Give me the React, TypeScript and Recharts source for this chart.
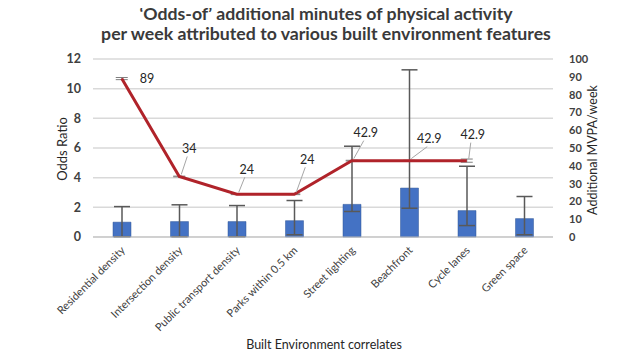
import {
  ComposedChart,
  Bar,
  Line,
  XAxis,
  YAxis,
  CartesianGrid,
  ErrorBar,
  LabelList,
} from "recharts";

const categories = [
  "Residential density",
  "Intersection density",
  "Public transport density",
  "Parks within 0.5 km",
  "Street lighting",
  "Beachfront",
  "Cycle lanes",
  "Green space",
];
const oddsRatio = [1.0, 1.04, 1.04, 1.1, 2.2, 3.3, 1.78, 1.24];
const ciLower = [0.02, 0.02, 0.02, 0.15, 1.72, 1.94, 0.77, 0.15];
const ciUpper = [2.05, 2.17, 2.12, 2.46, 6.12, 11.27, 4.77, 2.73];
const mvpa = [89, 34, 24, 24, 42.9, 42.9, 42.9, null];
const mvpaErr = [0.6, 0.2, 0.2, 0.2, 0.2, 0.2, 0.9, 0];
const leftTicks = [0, 2, 4, 6, 8, 10, 12];
const rightTicks = [0, 10, 20, 30, 40, 50, 60, 70, 80, 90, 100];

// label offsets (dx, dy) from each line point
const labelOffsets = [
  [18, 0],
  [10, -28],
  [10, -25],
  [13, -35],
  [14, -28],
  [20, -22],
  [6, -26],
];

const data = categories.map((name, i) => ({
  name,
  or: oddsRatio[i],
  orErr: [oddsRatio[i] - ciLower[i], ciUpper[i] - oddsRatio[i]],
  mvpa: mvpa[i],
  mvpaErr: mvpaErr[i],
}));

const FONT = "Lato, 'Open Sans', sans-serif";
const LINE_RED = "#B0232A";

function PointLabel(props: any) {
  const { x, y, value, index } = props;
  if (value == null) return null;
  const [dx, dy] = labelOffsets[index] || [0, -20];
  const leader = index !== 0;
  return (
    <g>
      {leader && (
        <line
          x1={x + 2}
          y1={y - 2}
          x2={x + dx - 2}
          y2={y + dy + 8}
          stroke="#a6a6a6"
          strokeWidth={1}
        />
      )}
      <text
        x={x + dx}
        y={y + dy}
        textAnchor={leader ? "middle" : "start"}
        dominantBaseline="central"
        fontFamily={FONT}
        fontSize={12.5}
        fill="#262626"
      >
        {value}
      </text>
    </g>
  );
}

function XTick(props: any) {
  const { x, y, payload } = props;
  return (
    <text
      x={x + 4}
      y={y + 6}
      textAnchor="end"
      fontFamily={FONT}
      fontSize={11}
      fill="#404040"
      transform={`rotate(-45 ${x + 4} ${y + 6})`}
    >
      {payload.value}
    </text>
  );
}

export default function App() {
  return (
    <div
      style={{
        position: "relative",
        width: 640,
        height: 364,
        margin: -8,
        background: "#fff",
        fontFamily: FONT,
      }}
    >
      <div
        style={{
          position: "absolute",
          top: 4,
          left: 6,
          width: 640,
          textAlign: "center",
          fontSize: 17.7,
          fontWeight: 700,
          lineHeight: "20px",
          color: "#3a3a3a",
          zIndex: 2,
        }}
      >
        ‘Odds-of’ additional minutes of physical activity
        <br />
        per week attributed to various built environment features
      </div>
      <ComposedChart
        width={640}
        height={364}
        data={data}
        margin={{ top: 59, right: 37, bottom: 37, left: 38 }}
        style={{ position: "absolute", top: 0, left: 0 }}
      >
        <CartesianGrid
          yAxisId="left"
          vertical={false}
          stroke="#d9d9d9"
          strokeWidth={1.5}
        />
        <XAxis
          dataKey="name"
          interval={0}
          height={90}
          tickLine={false}
          axisLine={{ stroke: "#bfbfbf" }}
          tick={<XTick />}
        />
        <YAxis
          yAxisId="left"
          domain={[0, 12]}
          ticks={leftTicks}
          width={55}
          tickLine={false}
          axisLine={false}
          tick={{ fontFamily: FONT, fontSize: 12.5, fontWeight: 700, fill: "#404040" }}
          tickMargin={6}
        />
        <YAxis
          yAxisId="right"
          orientation="right"
          domain={[0, 100]}
          ticks={rightTicks}
          width={50}
          tickLine={false}
          axisLine={false}
          interval={0}
          tick={{ fontFamily: FONT, fontSize: 11, fontWeight: 700, fill: "#404040" }}
          tickMargin={10}
        />
        <Bar
          yAxisId="left"
          dataKey="or"
          fill="#4472C4"
          stroke="#2F5597"
          strokeWidth={0.5}
          barSize={18}
          isAnimationActive={false}
        >
          <ErrorBar
            dataKey="orErr"
            width={8}
            stroke="#595959"
            strokeWidth={1.5}
          />
        </Bar>
        <Line
          yAxisId="right"
          dataKey="mvpa"
          stroke={LINE_RED}
          strokeWidth={3}
          dot={false}
          isAnimationActive={false}
        >
          <ErrorBar
            dataKey="mvpaErr"
            width={6}
            stroke="#7f7f7f"
            strokeWidth={1}
          />
          <LabelList dataKey="mvpa" content={<PointLabel />} />
        </Line>
      </ComposedChart>
      <div
        style={{
          position: "absolute",
          left: 62,
          top: 149,
          transform: "translate(-50%, -50%) rotate(-90deg)",
          fontSize: 13,
          color: "#262626",
          whiteSpace: "nowrap",
        }}
      >
        Odds Ratio
      </div>
      <div
        style={{
          position: "absolute",
          left: 592,
          top: 150,
          transform: "translate(-50%, -50%) rotate(-90deg)",
          fontSize: 12.5,
          color: "#262626",
          whiteSpace: "nowrap",
        }}
      >
        Additional MVPA/week
      </div>
      <div
        style={{
          position: "absolute",
          left: 4,
          width: 640,
          top: 337,
          textAlign: "center",
          fontSize: 12.5,
          color: "#262626",
        }}
      >
        Built Environment correlates
      </div>
    </div>
  );
}
